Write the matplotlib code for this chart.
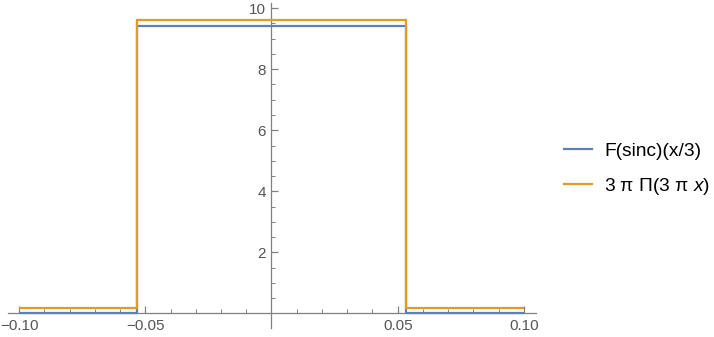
import matplotlib
matplotlib.use("Agg")
import matplotlib.pyplot as plt
from matplotlib.ticker import FixedLocator
import numpy as np

# Data
edges = [-0.10, -0.0531, 0.0531, 0.10]
blue_vals = [0.0, 9.42, 0.0]      # F(sinc)(x/3)
orange_vals = [0.19, 9.61, 0.19]  # 3 π Π(3 π x)
xticks = [-0.10, -0.05, 0.05, 0.10]
xticklabels = ["\u22120.10", "\u22120.05", "0.05", "0.10"]
yticks = [2, 4, 6, 8, 10]
legend_labels = ["F(sinc)(x/3)", "3 \u03c0 \u03a0(3 \u03c0 $x$)"]

plt.rcParams['font.family'] = ['Liberation Sans', 'DejaVu Sans']
plt.rcParams['mathtext.fontset'] = 'custom'
plt.rcParams['mathtext.it'] = 'Liberation Sans:italic'
plt.rcParams['mathtext.rm'] = 'Liberation Sans'

W, H = 714, 337
fig = plt.figure(figsize=(W/100, H/100), dpi=100)
l, r, t, b = 8, 536, 3, 328
ax = fig.add_axes([l/W, 1 - b/H, (r-l)/W, (b-t)/H])
ax.patch.set_visible(False)

blue = '#5E81B5'
orange = '#E19C24'
ax.stairs(blue_vals, edges, baseline=None, color=blue, lw=1.6, zorder=3, label=legend_labels[0])
ax.stairs(orange_vals, edges, baseline=None, color=orange, lw=1.6, zorder=4, label=legend_labels[1])

ax.set_xlim(-0.1044, 0.1048)
ax.set_ylim(-0.48, 10.17)

for s in ['top', 'right']:
    ax.spines[s].set_visible(False)
ax.spines['left'].set_position(('data', 0))
ax.spines['bottom'].set_position(('data', 0))
for s in ['left', 'bottom']:
    ax.spines[s].set_color('#808080')
    ax.spines[s].set_linewidth(0.9)

ax.set_xticks(xticks)
ax.set_xticklabels(xticklabels)
ax.set_yticks(yticks)
ax.xaxis.set_minor_locator(FixedLocator([v for v in np.arange(-0.10, 0.1001, 0.01) if abs(round(v*100) % 5) != 0]))
ax.yaxis.set_minor_locator(FixedLocator([-0.5, 0.5, 1, 1.5, 2.5, 3, 3.5, 4.5, 5, 5.5, 6.5, 7, 7.5, 8.5, 9, 9.5]))
ax.tick_params(which='major', direction='in', length=5, width=0.9, color='#808080',
               labelcolor='#555555', labelsize=11, pad=4)
ax.tick_params(which='minor', direction='in', length=3, width=0.7, color='#808080')

leg = fig.legend(loc='upper left', bbox_to_anchor=(547/W, 1 - 125/H), frameon=False,
                 fontsize=13.8, handlelength=1.45, handletextpad=0.62, labelspacing=0.85)
for line in leg.get_lines():
    line.set_linewidth(1.6)

fig.savefig('out.png', dpi=100)
